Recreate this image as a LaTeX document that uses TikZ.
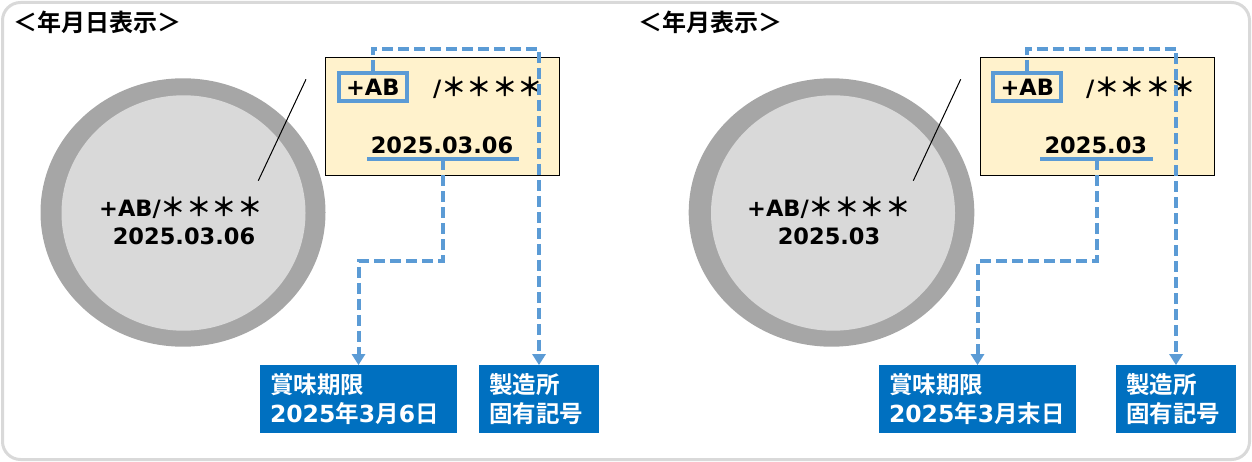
\documentclass[tikz,border=0pt]{standalone}
\usepackage{fontspec}
\setmainfont{DejaVu Sans}
\newfontfamily\jp{Noto Sans CJK JP}[BoldFont={Noto Sans CJK JP Bold}]
\usetikzlibrary{arrows.meta}
\definecolor{framegray}{HTML}{D9D9D9}
\definecolor{ringgray}{HTML}{A6A6A6}
\definecolor{facegray}{HTML}{D9D9D9}
\definecolor{labelyellow}{HTML}{FFF2CC}
\definecolor{dashblue}{HTML}{5B9BD5}
\definecolor{infoblue}{HTML}{0070C0}
\newcommand\latfont{\fontsize{22.5}{26}\selectfont\bfseries}
\newcommand\titlefont{\jp\fontsize{24}{27}\selectfont\bfseries}
\newcommand\infofont{\fontsize{23.5}{29.5}\selectfont\bfseries}
\newcommand\fwast{{\jp\fontsize{25.5}{26}\selectfont ＊}}
\begin{document}
\begin{tikzpicture}[x=1pt,y=-1pt,
  frame/.style={draw=framegray, line width=3pt, rounded corners=18pt},
  ring/.style={fill=ringgray},
  face/.style={fill=facegray},
  labelbox/.style={fill=labelyellow, draw=black, line width=1pt, minimum width=234pt, minimum height=118pt, inner sep=0pt},
  abbox/.style={draw=dashblue, line width=3.8pt, minimum width=67.9pt, minimum height=27.6pt, inner sep=0pt, font=\latfont},
  dl/.style={draw=dashblue, line width=4pt, dash pattern=on 11pt off 5pt},
  arr/.style={dl, -{Triangle[width=13pt,length=11pt]}},
  uline/.style={draw=dashblue, line width=4.2pt},
  info/.style={fill=infoblue, text=white, minimum height=67.4pt, inner xsep=10pt, inner ysep=0pt, align=left, font=\infofont},
  title/.style={font=\titlefont, anchor=west, inner sep=0pt},
  txt/.style={font=\latfont, anchor=base, inner sep=0pt},
  leader/.style={draw=black, line width=1pt}
]
\useasboundingbox (0,0) rectangle (1252,462);
\draw[frame] (2.5,2.5) rectangle (1249.5,459.5);

% ---------- left panel ----------
\node[title] (t1) at (13,22.5) {＜年月日表示＞};
\fill[ring] (183,212.5) ellipse [x radius=142.5pt, y radius=134.2pt];
\fill[face] (183.5,213) ellipse [x radius=122pt, y radius=117.7pt];
\node[txt] (c1a) at (181,216.7) {+AB/\fwast\fwast\fwast\fwast};
\node[txt] (c1b) at (184,245) {2025.03.06};
\coordinate (l1a) at (306,79.3);
\coordinate (l1b) at (258.3,180.7);
\draw[leader] (l1a) -- (l1b);
\node[labelbox] (y1) at (442.3,116.3) {};
\node[abbox] (ab1) at (372.8,87) {+AB};
\node[txt, anchor=base west] (st1) at (433,96.7) {/\fwast\fwast\fwast\fwast};
\node[txt] (d1) at (442,154) {2025.03.06};
\draw[uline] (367,159.3) -- coordinate[pos=0.5] (u1) (518.7,159.3);
\node[info, minimum width=197pt, text width=177pt] (e1) at (358.5,399)
  {{\jp 賞味期限}\\2025{\jp 年}3{\jp 月}6{\jp 日}};
\node[info, minimum width=120pt, text width=100pt] (m1) at (539,399)
  {{\jp 製造所}\\{\jp 固有記号}};
\draw[arr] (ab1.north) -- ++(0,-22.6) -| (m1.north);
\draw[arr] (u1) -- ++(0,102) -| (e1.north);

% ---------- right panel ----------
\node[title] (t2) at (638,22.5) {＜年月表示＞};
\fill[ring] (831.5,212.5) ellipse [x radius=142.8pt, y radius=134.2pt];
\fill[face] (833,213) ellipse [x radius=122pt, y radius=117.7pt];
\node[txt] (c2a) at (829,216.7) {+AB/\fwast\fwast\fwast\fwast};
\node[txt] (c2b) at (829,245) {2025.03};
\coordinate (l2a) at (960.7,79.3);
\coordinate (l2b) at (913.3,180.7);
\draw[leader] (l2a) -- (l2b);
\node[labelbox] (y2) at (1097.5,116.3) {};
\node[abbox] (ab2) at (1027.3,87) {+AB};
\node[txt, anchor=base west] (st2) at (1086,96.7) {/\fwast\fwast\fwast\fwast};
\node[txt] (d2) at (1095.8,154) {2025.03};
\draw[uline] (1040,159.3) -- coordinate[pos=0.5] (u2) (1153.3,159.3);
\node[info, minimum width=197pt, text width=177pt] (e2) at (977.5,399)
  {{\jp 賞味期限}\\2025{\jp 年}3{\jp 月末日}};
\node[info, minimum width=120pt, text width=100pt] (m2) at (1176,399)
  {{\jp 製造所}\\{\jp 固有記号}};
\draw[arr] (ab2.north) -- ++(0,-22.6) -| (m2.north);
\draw[arr] (u2) -- ++(0,102) -| (e2.north);
\end{tikzpicture}
\end{document}
